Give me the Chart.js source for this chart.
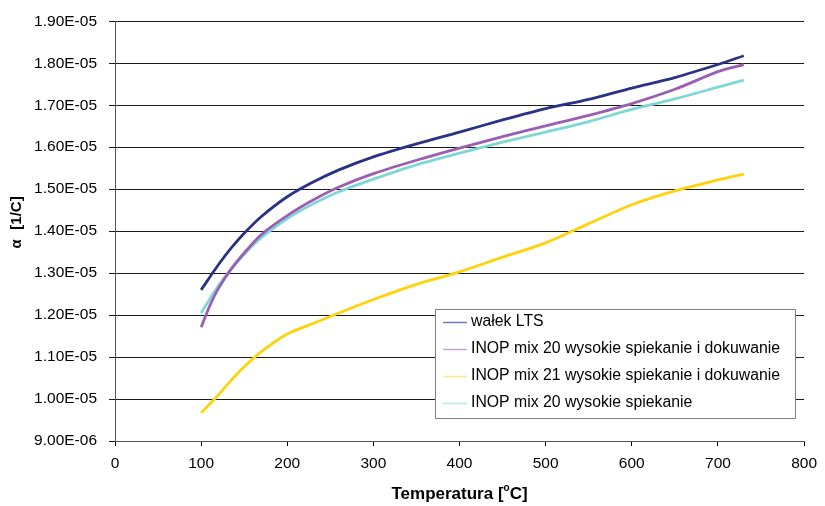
<!DOCTYPE html>
<html>
<head>
<meta charset="utf-8">
<script src="https://cdn.jsdelivr.net/npm/chart.js@4.4.1/dist/chart.umd.min.js"></script>
<style>
  html, body { margin: 0; padding: 0; background: #fff; }
  #wrap { width: 825px; height: 506px; }
</style>
</head>
<body>
<div id="wrap"><canvas id="chart" width="825" height="506"></canvas></div>
<script>
// temperatures [°C] shared by all series
const temps = [100, 110, 120, 135, 150, 170, 200, 230, 260, 300, 350, 400, 450, 500, 550, 600, 650, 700, 730];

// alpha values in units of 1e-5 1/C
const walekLTS   = [1.260, 1.290, 1.320, 1.360, 1.395, 1.435, 1.482, 1.517, 1.546, 1.577, 1.608, 1.636, 1.665, 1.692, 1.714, 1.741, 1.766, 1.797, 1.818];
const mix20Dok   = [1.171, 1.222, 1.263, 1.310, 1.348, 1.392, 1.437, 1.474, 1.505, 1.537, 1.569, 1.598, 1.625, 1.651, 1.676, 1.704, 1.738, 1.780, 1.797];
const mix21Dok   = [0.967, 0.988, 1.010, 1.045, 1.077, 1.113, 1.155, 1.180, 1.205, 1.237, 1.273, 1.303, 1.338, 1.372, 1.418, 1.463, 1.496, 1.522, 1.536];
const mix20      = [1.205, 1.238, 1.270, 1.310, 1.345, 1.385, 1.430, 1.465, 1.494, 1.524, 1.558, 1.586, 1.612, 1.636, 1.661, 1.690, 1.715, 1.743, 1.760];

const seriesNames = [
  'wałek LTS',
  'INOP mix 20 wysokie spiekanie i dokuwanie',
  'INOP mix 21 wysokie spiekanie i dokuwanie',
  'INOP mix 20 wysokie spiekanie'
];
const seriesData = [walekLTS, mix20Dok, mix21Dok, mix20];
const lineColors = ['#2B3185', '#9A5FB3', '#FFD20A', '#7FD6D6'];
const legendColors = ['#7478B5', '#C3A3D6', '#FFE680', '#B8EAEA'];

const yTicks = [0.9, 1.0, 1.1, 1.2, 1.3, 1.4, 1.5, 1.6, 1.7, 1.8, 1.9];
const xTicks = [0, 100, 200, 300, 400, 500, 600, 700, 800];

const FONT = '"Liberation Sans", Arial, sans-serif';

const datasets = seriesData.map((vals, i) => ({
  label: seriesNames[i],
  data: vals.map((v, j) => ({ x: temps[j], y: v * 1e-5 })),
  borderColor: lineColors[i],
  backgroundColor: lineColors[i],
  borderWidth: 2.8,
  pointRadius: 0,
  fill: false,
  tension: 0.3
}));

const overlay = {
  id: 'overlay',
  afterDraw(chart) {
    const ctx = chart.ctx;
    const area = chart.chartArea;
    ctx.save();

    // x axis title with superscript o
    ctx.fillStyle = '#000';
    ctx.textBaseline = 'middle';
    const p1 = 'Temperatura [', p2 = 'o', p3 = 'C]';
    ctx.font = 'bold 17px ' + FONT;
    const w1 = ctx.measureText(p1).width;
    const w3 = ctx.measureText(p3).width;
    ctx.font = 'bold 10px ' + FONT;
    const w2 = ctx.measureText(p2).width;
    const total = w1 + w2 + w3;
    let x = (area.left + area.right) / 2 - total / 2;
    const y = 494;
    ctx.textAlign = 'left';
    ctx.font = 'bold 17px ' + FONT;
    ctx.fillText(p1, x, y);
    x += w1;
    ctx.font = 'bold 10px ' + FONT;
    ctx.fillText(p2, x, y - 6);
    x += w2;
    ctx.font = 'bold 17px ' + FONT;
    ctx.fillText(p3, x, y);

    // y axis title
    ctx.translate(17, 0);
    ctx.rotate(-Math.PI / 2);
    ctx.textAlign = 'center';
    ctx.font = 'bold 15px ' + FONT;
    ctx.fillText('[1/C]', -213, 0);
    ctx.fillText('α', -244, 0);
    ctx.restore();

    // legend box
    ctx.save();
    const bx = 435, by = 309, bw = 360, bh = 109;
    ctx.fillStyle = '#fff';
    ctx.fillRect(bx, by, bw, bh);
    ctx.strokeStyle = '#808080';
    ctx.lineWidth = 1;
    ctx.strokeRect(bx + 0.5, by + 0.5, bw, bh);
    const rows = [322, 349, 376, 403];
    ctx.font = '15.8px ' + FONT;
    ctx.textAlign = 'left';
    ctx.textBaseline = 'middle';
    seriesNames.forEach((name, i) => {
      ctx.strokeStyle = legendColors[i];
      ctx.lineWidth = 1.5;
      ctx.beginPath();
      ctx.moveTo(443, rows[i] + 0.5);
      ctx.lineTo(467, rows[i] + 0.5);
      ctx.stroke();
      ctx.fillStyle = '#000';
      ctx.fillText(name, 471, rows[i]);
    });
    ctx.restore();
  }
};

new Chart(document.getElementById('chart'), {
  type: 'line',
  data: { datasets },
  options: {
    responsive: false,
    animation: false,
    layout: { padding: { left: 0, right: 18, top: 21, bottom: 0 } },
    plugins: {
      legend: { display: false },
      tooltip: { enabled: false }
    },
    scales: {
      x: {
        type: 'linear',
        min: 0,
        max: 800,
        afterBuildTicks: (s) => { s.ticks = xTicks.map(v => ({ value: v })); },
        afterFit: (s) => { s.height = 65; },
        ticks: {
          color: '#000',
          font: { family: FONT, size: 15.5 },
          padding: 8,
          maxRotation: 0
        },
        grid: {
          drawOnChartArea: false,
          drawTicks: true,
          tickLength: 5,
          color: '#000'
        },
        border: { color: '#555', width: 1 }
      },
      y: {
        type: 'linear',
        min: 0.9e-5,
        max: 1.9e-5,
        afterBuildTicks: (s) => { s.ticks = yTicks.map(v => ({ value: v * 1e-5 })); },
        afterFit: (s) => { s.width = 115; },
        ticks: {
          color: '#000',
          font: { family: FONT, size: 15.5 },
          padding: 12,
          callback: (v) => {
            const m = v / 1e-5;
            return m < 0.95 ? (m * 10).toFixed(2) + 'E-06' : m.toFixed(2) + 'E-05';
          }
        },
        grid: {
          color: '#1a1a1a',
          lineWidth: 1,
          drawTicks: true,
          tickLength: 6
        },
        border: { color: '#555', width: 1 }
      }
    }
  },
  plugins: [overlay]
});
</script>
</body>
</html>
